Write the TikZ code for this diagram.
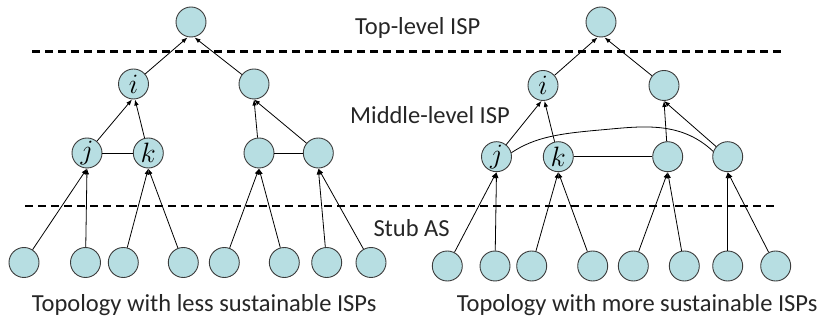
\documentclass[tikz,border=0pt]{standalone}
\usepackage{fix-cm}
\usepackage{fontspec}
\setmainfont{Carlito}
\usetikzlibrary{arrows.meta}
\definecolor{asfill}{HTML}{B7DEE2}
\definecolor{asline}{HTML}{3C3C3C}
\tikzset{
  asnode/.style={circle, draw=asline, line width=0.9pt, fill=asfill,
    minimum size=30pt, inner sep=0pt, font=\fontsize{28}{28}\selectfont},
  arr/.style={line width=0.8pt, -{Latex[length=6pt,width=4.5pt]}},
  link/.style={line width=0.8pt},
  level/.style={line width=2.5pt, dash pattern=on 8pt off 5pt},
  lbl/.style={inner sep=0pt, anchor=base west, font=\fontsize{24.5}{24.5}\selectfont, text=black!85}
}
\begin{document}
\begin{tikzpicture}[x=1pt,y=-1pt]
\useasboundingbox (0,0) rectangle (828,320);

% level separators
\coordinate (t1) at (32,51.5);  \coordinate (t2) at (782,51.5);
\coordinate (s1) at (25,206);   \coordinate (s2) at (775,206);
\draw[level] (t1) -- (t2);
\draw[level] (s1) -- (s2);

% level labels
\node[lbl] (ltop) at (355,34.3) {Top-level ISP};
\node[lbl] (lmid) at (350,124) {Middle-level ISP};
\node[lbl] (lstub) at (373.3,236.7) {Stub AS};

% ---- left topology ----
\node[asnode] (A) at (191,22) {};
\node[asnode] (Ai) at (133.5,84) {$i$};
\node[asnode] (Am) at (254,84) {};
\node[asnode] (Aj) at (87,153) {$j$};
\node[asnode] (Ak) at (148.3,153) {$k$};
\node[asnode] (Ap) at (259,153) {};
\node[asnode] (Aq) at (318.3,153) {};
\foreach \n/\x in {1/24,2/85.5,3/123.3,4/183.3,5/224.3,6/284.3,7/326.7,8/371}
  \node[asnode] (Ab\n) at (\x,262.5) {};

\draw[arr] (Ai) -- ([xshift=-3.5pt]A.south);
\draw[arr] (Am) -- ([xshift=3.5pt]A.south);
\draw[arr] (Aj) -- ([xshift=-1.5pt]Ai.south);
\draw[arr] (Ak) -- ([xshift=1.5pt]Ai.south);
\draw[arr] (Ap) -- (Am.south);
\draw[arr] (Aq) -- (Am.south);
\draw[link] (Aj) -- (Ak);
\draw[link] (Ap) -- (Aq);
\draw[arr] (Ab1) -- (Aj.south);
\draw[arr] (Ab2) -- (Aj.south);
\draw[arr] (Ab3) -- (Ak.south);
\draw[arr] (Ab4) -- (Ak.south);
\draw[arr] (Ab5) -- (Ap.south);
\draw[arr] (Ab6) -- (Ap.south);
\draw[arr] (Ab7) -- (Aq.south);
\draw[arr] (Ab8) -- (Aq.south);

\node[lbl] (capA) at (31.7,311.5) {Topology with less sustainable ISPs};

% ---- right topology ----
\node[asnode] (B) at (601,22) {};
\node[asnode] (Bi) at (543,85.5) {$i$};
\node[asnode] (Bm) at (664,85.5) {};
\node[asnode] (Bj) at (496.5,156.7) {$j$};
\node[asnode] (Bk) at (558.3,156.7) {$k$};
\node[asnode] (Bp) at (667.7,156.7) {};
\node[asnode] (Bq) at (727.7,156.7) {};
\foreach \n/\x in {1/447.3,2/495,3/531.7,4/592.7,5/633.3,6/684.3,7/727.7,8/775.7}
  \node[asnode] (Bb\n) at (\x,266) {};

\draw[arr] (Bi) -- ([xshift=-3.5pt]B.south);
\draw[arr] (Bm) -- ([xshift=3.5pt]B.south);
\draw[arr] (Bj) -- ([xshift=-1.5pt]Bi.south);
\draw[arr] (Bk) -- ([xshift=1.5pt]Bi.south);
\draw[arr] (Bp) -- (Bm.south);
\draw[arr] (Bq) -- (Bm.south);
\draw[link] (Bk) -- (Bp);
% peering link from j over the top to the far-right node
\coordinate (arc) at (600,130);
\draw[link] (Bj.15) .. controls (535,137) and (560,133.5) .. (arc)
  .. controls (640,126.5) and (680,120) .. (Bq.160);
\draw[arr] (Bb1) -- (Bj.south);
\draw[arr] (Bb2) -- (Bj.south);
\draw[arr] (Bb3) -- (Bk.south);
\draw[arr] (Bb4) -- (Bk.south);
\draw[arr] (Bb5) -- (Bp.south);
\draw[arr] (Bb6) -- (Bp.south);
\draw[arr] (Bb7) -- (Bq.south);
\draw[arr] (Bb8) -- (Bq.south);

\node[lbl] (capB) at (456.7,311.5) {Topology with more sustainable ISPs};
\end{tikzpicture}
\end{document}
